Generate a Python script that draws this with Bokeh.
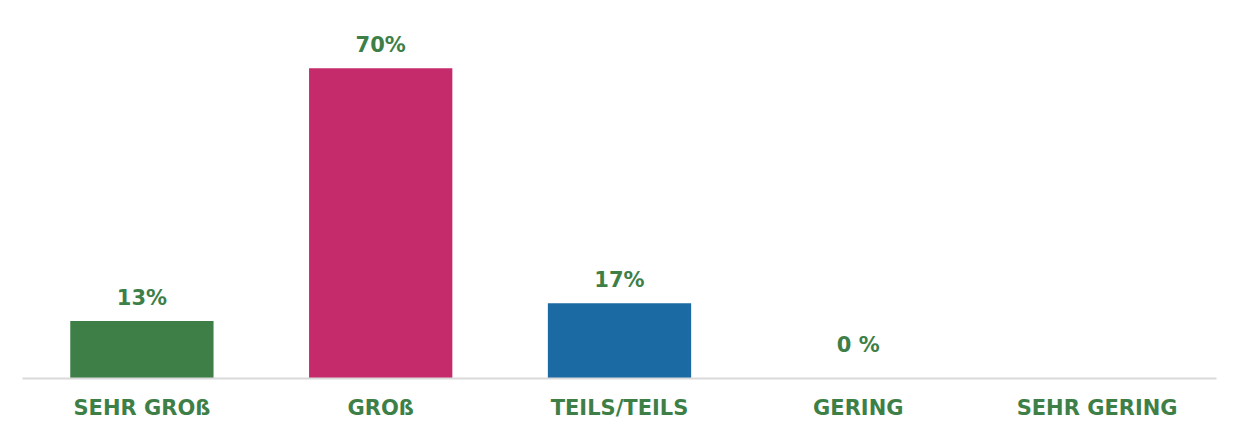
from bokeh.plotting import figure
from bokeh.models import ColumnDataSource, Range1d
from bokeh.core.properties import value
from bokeh.embed import file_html
from bokeh.resources import INLINE

categories = ["SEHR GROß", "GROß", "TEILS/TEILS", "GERING", "SEHR GERING"]
values = [13, 70, 17, 0, 0]
value_labels = ["13%", "70%", "17%", "0 %", ""]
colors = ["#3d7f47", "#c52a6a", "#1b6aa3", "#3d7f47", "#3d7f47"]
text_green = "#3e7f47"

# zero-valued labels sit slightly above the baseline, as in the source chart
label_y = [max(v, 2.3) for v in values]

src = ColumnDataSource(dict(cat=categories, val=values, lab=value_labels, col=colors, ly=label_y))

p = figure(x_range=categories, y_range=Range1d(0, 83.5),
           frame_width=1194, frame_height=370,
           output_backend="svg", toolbar_location=None,
           min_border_left=22, min_border_right=8, min_border_top=8, min_border_bottom=0)
p.vbar(x="cat", top="val", width=0.6, color="col", source=src, line_color=None)
p.text(x="cat", y="ly", text="lab", source=src, text_align="center", text_baseline="bottom",
       y_offset=-11, text_font=value("DejaVu Sans"), text_font_style="bold", text_font_size="21px",
       text_color=text_green)

p.yaxis.visible = False
p.grid.visible = False
p.outline_line_color = None
p.xaxis.axis_line_color = "#d9d9d9"
p.xaxis.axis_line_width = 2
p.xaxis.major_tick_line_color = None
p.xaxis.minor_tick_line_color = None
p.xaxis.major_label_standoff = 11
p.xaxis.major_label_text_font = "DejaVu Sans"
p.xaxis.major_label_text_font_style = "bold"
p.xaxis.major_label_text_font_size = "21px"
p.xaxis.major_label_text_color = text_green
p.x_range.range_padding = 0

open("out.html", "w").write(file_html(p, INLINE))
